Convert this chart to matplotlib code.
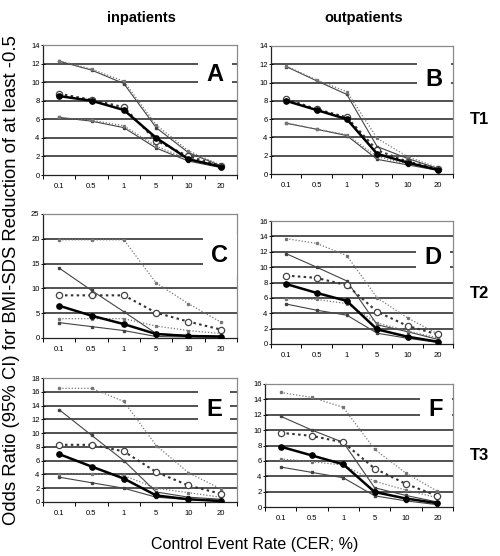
import matplotlib
matplotlib.use("Agg")
import matplotlib.pyplot as plt
import numpy as np

# control event rates (categorical x axis)
cer_labels = ["0.1", "0.5", "1", "5", "10", "20"]

# per panel: solid estimate (filled circles) with solid CI, dotted estimate (open circles) with dotted CI
A_est = [8.5, 8.0, 7.0, 4.0, 1.7, 0.9]
A_lo = [6.2, 5.8, 5.1, 2.9, 1.5, 0.8]
A_hi = [12.25, 11.3, 9.85, 5.1, 2.4, 1.0]
A_est2 = [8.75, 8.1, 7.3, 3.7, 2.0, 1.0]
A_lo2 = [6.2, 5.9, 5.3, 3.1, 1.7, 0.85]
A_hi2 = [12.3, 11.4, 10.1, 5.4, 2.6, 1.05]

B_est = [8.0, 7.0, 6.0, 2.2, 1.25, 0.45]
B_lo = [5.55, 4.9, 4.2, 1.6, 1.0, 0.4]
B_hi = [11.75, 10.2, 8.7, 3.0, 1.7, 0.6]
B_est2 = [8.2, 7.1, 6.2, 2.6, 1.35, 0.6]
B_lo2 = [5.6, 4.9, 4.3, 1.9, 1.1, 0.5]
B_hi2 = [11.8, 10.3, 9.0, 3.9, 1.9, 0.7]

C_est = [6.5, 4.5, 2.8, 0.8, 0.4, 0.3]
C_lo = [3.1, 2.3, 1.5, 0.3, 0.2, 0.1]
C_hi = [14.1, 9.6, 5.3, 0.9, 0.5, 0.3]
C_est2 = [8.6, 8.6, 8.6, 5.1, 3.3, 1.7]
C_lo2 = [3.9, 3.9, 3.9, 2.4, 1.5, 0.9]
C_hi2 = [19.8, 19.8, 19.8, 11.1, 6.9, 3.2]

D_est = [7.8, 6.65, 5.6, 1.9, 0.95, 0.3]
D_lo = [5.2, 4.4, 3.75, 1.4, 0.75, 0.2]
D_hi = [11.75, 10.0, 8.2, 2.5, 1.6, 0.6]
D_est2 = [8.9, 8.6, 7.65, 4.2, 2.35, 1.25]
D_lo2 = [5.9, 5.8, 5.25, 2.75, 1.7, 0.8]
D_hi2 = [13.7, 13.1, 11.5, 6.0, 3.4, 1.3]

E_est = [6.95, 5.15, 3.4, 0.95, 0.4, 0.15]
E_lo = [3.6, 2.8, 2.0, 0.7, 0.35, 0.1]
E_hi = [13.4, 9.7, 6.0, 1.45, 0.7, 0.4]
E_est2 = [8.3, 8.3, 7.35, 4.35, 2.4, 1.2]
E_lo2 = [4.1, 4.1, 3.85, 2.0, 1.35, 0.7]
E_hi2 = [16.5, 16.5, 14.6, 8.2, 4.25, 1.9]

F_est = [7.85, 6.7, 5.55, 1.95, 1.1, 0.5]
F_lo = [5.2, 4.5, 3.8, 1.45, 0.8, 0.3]
F_hi = [11.8, 10.0, 8.4, 2.5, 1.5, 0.65]
F_est2 = [9.65, 9.25, 8.4, 5.0, 3.0, 1.45]
F_lo2 = [6.25, 5.9, 5.45, 3.35, 2.2, 1.2]
F_hi2 = [14.9, 14.25, 12.95, 7.5, 4.4, 2.05]

panel_letters = ["A", "B", "C", "D", "E", "F"]
row_labels = ["T1", "T2", "T3"]
col_labels = ["inpatients", "outpatients"]
y_max = [14, 14, 25, 16, 18, 16]
y_step = [2, 2, 5, 2, 2, 2]

W, H = 500, 556
fig = plt.figure(figsize=(W / 100, H / 100), dpi=100)
fig.patch.set_facecolor("white")

# axes boxes in pixels: left, top, right, bottom
boxes = [(43, 45, 237, 175), (271, 46, 453, 174),
         (43, 214, 237, 338), (271, 221, 453, 344),
         (43, 378, 237, 502), (265, 384, 453, 507)]
# letter centres in pixels
letter_pos = [(215, 74), (434, 80), (220, 255), (433, 257), (214, 409), (436, 409)]

panels = [
    (A_est, A_lo, A_hi, A_est2, A_lo2, A_hi2),
    (B_est, B_lo, B_hi, B_est2, B_lo2, B_hi2),
    (C_est, C_lo, C_hi, C_est2, C_lo2, C_hi2),
    (D_est, D_lo, D_hi, D_est2, D_lo2, D_hi2),
    (E_est, E_lo, E_hi, E_est2, E_lo2, E_hi2),
    (F_est, F_lo, F_hi, F_est2, F_lo2, F_hi2),
]

tick_font = dict(family=["Liberation Sans Narrow", "Liberation Sans"], size=5.5)
x = np.arange(len(cer_labels))

for i, (est, lo, hi, est2, lo2, hi2) in enumerate(panels):
    l, t, r, b = boxes[i]
    ax = fig.add_axes([l / W, 1 - b / H, (r - l) / W, (b - t) / H])
    ax.set_xlim(-0.5, len(cer_labels) - 0.5)
    ax.set_ylim(0, y_max[i])
    yt = np.arange(0, y_max[i] + 0.1, y_step[i])
    ax.set_yticks(yt)
    ax.set_yticklabels([f"{v:g}" for v in yt], fontdict=tick_font)
    for v in yt[1:-1]:
        ax.axhline(v, color="#222222", lw=1.1, zorder=1)

    ax.set_xticks(x)
    ax.set_xticklabels(cer_labels, fontdict=tick_font)
    ax.set_xticks(np.arange(-0.5, len(cer_labels), 1.0), minor=True)
    ax.tick_params(axis="x", which="major", length=0, pad=6)
    ax.tick_params(axis="x", which="minor", length=3, direction="out", width=0.7)
    ax.tick_params(axis="y", length=3, direction="inout", width=0.7, pad=1)

    for sp in ax.spines.values():
        sp.set_color("#8a8a8a")
        sp.set_linewidth(0.9)
    ax.spines["left"].set_color("#222222")
    ax.spines["bottom"].set_color("#222222")

    # confidence limits
    ax.plot(x, hi, color="#444444", lw=0.8, marker="s", ms=1.6, zorder=3)
    ax.plot(x, lo, color="#444444", lw=0.8, marker="s", ms=1.6, zorder=3)
    ax.plot(x, hi2, color="#777777", lw=0.9, ls=(0, (1, 1.5)), marker="s", ms=1.4, zorder=3)
    ax.plot(x, lo2, color="#777777", lw=0.9, ls=(0, (1, 1.5)), marker="s", ms=1.4, zorder=3)
    # estimates
    ax.plot(x, est2, color="#333333", lw=1.5, ls=(0, (1.2, 1.6)), marker="o", ms=4.5,
            mfc="white", mec="#444444", mew=0.9, zorder=4)
    ax.plot(x, est, color="black", lw=1.8, marker="o", ms=3.8, mfc="black",
            mec="black", zorder=5)

    lx, ly = letter_pos[i]
    fig.text(lx / W, 1 - ly / H, panel_letters[i], ha="center", va="center",
             fontsize=17, fontweight="bold", family="Liberation Sans", zorder=10,
             bbox=dict(boxstyle="square,pad=0.35", fc="white", ec="none"))

# column headers
for cx, lab in zip([141, 364], col_labels):
    fig.text(cx / W, 1 - 18 / H, lab, ha="center", va="center", fontsize=10.5,
             fontweight="bold", family="Liberation Sans")
# row labels
for cy, lab in zip([119, 293, 455], row_labels):
    fig.text(480 / W, 1 - cy / H, lab, ha="center", va="center", fontsize=12,
             fontweight="bold", family="Liberation Sans")

fig.text(12 / W, 1 - 280 / H, "Odds Ratio (95% CI) for BMI-SDS Reduction of at least -0.5",
         rotation=90, ha="center", va="center", fontsize=13.3, family="Liberation Sans")
fig.text(255 / W, 1 - 545 / H, "Control Event Rate (CER; %)", ha="center", va="center",
         fontsize=11.5, family="Liberation Sans")

fig.savefig("out.png", dpi=100, facecolor="white")
